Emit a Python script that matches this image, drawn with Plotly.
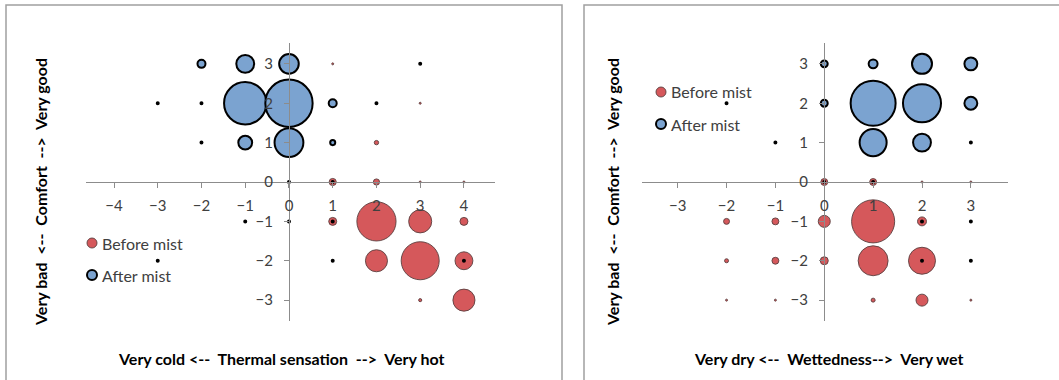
import math
import plotly.graph_objects as go

W, H = 1059, 380

# ---------------- data ----------------
# Left chart: thermal sensation (x) vs comfort (y)
thermal_before_x = [1, 3, 2, 1, 2, 3, 4, 1, 2, 3, 4, 2, 3, 4, 3, 4]
thermal_before_y = [3, 2, 1, 0, 0, 0, 0, -1, -1, -1, -1, -2, -2, -2, -3, -3]
thermal_before_v = [0, 0, 0.3, 0.8, 0.6, 0, 0, 1.0, 24, 8.3, 1.0, 7.6, 22.6, 5.0, 0.15, 7.6]

thermal_after_x = [-2, -1, 0, 3, -3, -2, -1, 0, 1, 2, -2, -1, 0, 1, 0, 1, -1, 0, 1, -3, 1, 4]
thermal_after_y = [3, 3, 3, 3, 2, 2, 2, 2, 2, 2, 1, 1, 1, 1, 0, 0, -1, -1, -1, -2, -2, -2]
thermal_after_v = [1.0, 5.0, 6.0, 0, 0, 0, 28, 35, 1.0, 0, 0, 3.0, 13, 0.4, 0, 0, 0, 0, 0, 0, 0, 0]

# Right chart: wettedness (x) vs comfort (y)
wet_before_x = [0, 1, 2, 3, -2, -1, 0, 1, 2, -2, -1, 0, 1, 2, -2, -1, 1, 2, 3]
wet_before_y = [0, 0, 0, 0, -1, -1, -1, -1, -1, -2, -2, -2, -2, -2, -3, -3, -3, -3, -3]
wet_before_v = [0.75, 0.75, 0, 0, 0.55, 0.75, 2.25, 29, 1.25, 0.25, 0.75, 1.0, 14, 11.4, 0, 0, 0.25, 2.25, 0]

wet_after_x = [0, 1, 2, 3, -2, 0, 1, 2, 3, -1, 1, 2, 3, 0, 1, 2, 3, 2, 3]
wet_after_y = [3, 3, 3, 3, 2, 2, 2, 2, 2, 1, 1, 1, 1, 0, 0, -1, -1, -2, -2]
wet_after_v = [0.75, 1.25, 6.25, 2.6, 0, 0.75, 31.6, 22.6, 2.6, 0, 11.4, 5.0, 0, 0, 0, 0, 0, 0, 0]

thermal_ticks = [-4, -3, -2, -1, 0, 1, 2, 3, 4]
wet_ticks = [-3, -2, -1, 0, 1, 2, 3]
comfort_ticks = [-3, -2, -1, 0, 1, 2, 3]

series_names = ["Before mist", "After mist"]
titles_x = ["Very cold <--  Thermal sensation  -->  Very hot", "Very dry <--  Wettedness-->  Very wet"]
title_y = "Very bad  <--  Comfort  -->  Very good"

# ---------------- style ----------------
FONT = "Lato, 'Open Sans', Arial, sans-serif"
RED = "#D5585B"
BLUE = "#7BA3D0"
RED_LINE = "#5a4040"
AXIS = "#8C8C8C"
TXT = "#404040"
D_PER_SQRT = 8.0   # bubble diameter (px) per sqrt(value)
D_MIN = 2.0


def diam(vals):
    return [max(D_MIN, D_PER_SQRT * math.sqrt(v)) for v in vals]


def px_x(p):
    return p / W


def px_y(p):
    return 1 - p / H


fig = go.Figure()

panels = [
    dict(xa="x", ya="y", bx=thermal_before_x, by=thermal_before_y, bv=thermal_before_v,
         ax=thermal_after_x, ay=thermal_after_y, av=thermal_after_v),
    dict(xa="x2", ya="y2", bx=wet_before_x, by=wet_before_y, bv=wet_before_v,
         ax=wet_after_x, ay=wet_after_y, av=wet_after_v),
]

for p in panels:
    fig.add_trace(go.Scatter(
        x=p["bx"], y=p["by"], mode="markers", name=series_names[0], showlegend=False,
        xaxis=p["xa"], yaxis=p["ya"],
        marker=dict(size=diam(p["bv"]), color=RED, opacity=1,
                    line=dict(color=RED_LINE, width=0.9)),
        hoverinfo="skip"))
    fig.add_trace(go.Scatter(
        x=p["ax"], y=p["ay"], mode="markers", name=series_names[1], showlegend=False,
        xaxis=p["xa"], yaxis=p["ya"],
        marker=dict(size=diam(p["av"]), color=BLUE, opacity=1,
                    line=dict(color="#000000", width=2)),
        hoverinfo="skip"))

ydom = [px_y(321), px_y(43)]
yrng = [-3.53, 3.53]
xpos_axis = px_y(182)

common_x = dict(showline=True, linecolor=AXIS, linewidth=1, ticks="outside", ticklen=5,
                tickcolor=AXIS, showgrid=False, zeroline=False, anchor="free",
                position=xpos_axis, tickfont=dict(family=FONT, size=15, color=TXT),
                ticklabelstandoff=5, fixedrange=True)
common_y = dict(showline=True, linecolor=AXIS, linewidth=1, ticks="outside", ticklen=5,
                tickcolor=AXIS, showgrid=False, zeroline=False, anchor="free",
                tickfont=dict(family=FONT, size=15, color=TXT), range=yrng, domain=ydom,
                tickvals=comfort_ticks, ticklabelstandoff=8, fixedrange=True)

fig.update_layout(
    width=W, height=H, margin=dict(l=0, r=0, t=0, b=0),
    paper_bgcolor="white", plot_bgcolor="rgba(0,0,0,0)",
    showlegend=False,
    xaxis=dict(common_x, domain=[px_x(86), px_x(495)], range=[-4.64, 4.71],
               tickvals=thermal_ticks),
    yaxis=dict(common_y, position=px_x(289)),
    xaxis2=dict(common_x, domain=[px_x(642), px_x(1008)], range=[-3.73, 3.76],
                tickvals=wet_ticks),
    yaxis2=dict(common_y, position=px_x(824)),
    font=dict(family=FONT),
)

# chart frames
fig.add_shape(type="rect", xref="paper", yref="paper",
              x0=px_x(6), x1=px_x(562), y0=px_y(390), y1=px_y(5),
              line=dict(color="#A0A0A0", width=1.5), layer="below")
fig.add_shape(type="rect", xref="paper", yref="paper",
              x0=px_x(584), x1=px_x(1070), y0=px_y(390), y1=px_y(5),
              line=dict(color="#A0A0A0", width=1.5), layer="below")

# axis titles
for cx, t in zip([281, 828], titles_x):
    fig.add_annotation(x=px_x(cx), y=px_y(358), xref="paper", yref="paper",
                       text="<b>" + t + "</b>", showarrow=False,
                       font=dict(family=FONT, size=16, color="#000000"),
                       xanchor="center", yanchor="middle")
for cx in [40, 612]:
    fig.add_annotation(x=px_x(cx), y=px_y(192), xref="paper", yref="paper",
                       text="<b>" + title_y + "</b>", showarrow=False, textangle=-90,
                       font=dict(family=FONT, size=16, color="#000000"),
                       xanchor="center", yanchor="middle")

# legends (keys + text)
for (lx, ly) in [(92, 243), (661, 92)]:
    for i, (name, col, lc, lw) in enumerate([(series_names[0], RED, RED_LINE, 0.9),
                                              (series_names[1], BLUE, "#000000", 2)]):
        cy = ly + 32 * i
        r = 5
        fig.add_shape(type="circle", xref="paper", yref="paper",
                      x0=px_x(lx - r), x1=px_x(lx + r), y0=px_y(cy + r), y1=px_y(cy - r),
                      fillcolor=col, line=dict(color=lc, width=lw))
        fig.add_annotation(x=px_x(lx + 8), y=px_y(cy), xref="paper", yref="paper",
                           text=name, showarrow=False, xanchor="left", yanchor="middle",
                           font=dict(family=FONT, size=16, color=TXT))

fig.write_html("out.html", config={"displayModeBar": False, "staticPlot": True},
               post_script="document.body.style.margin='0';document.body.style.overflow='hidden';")
